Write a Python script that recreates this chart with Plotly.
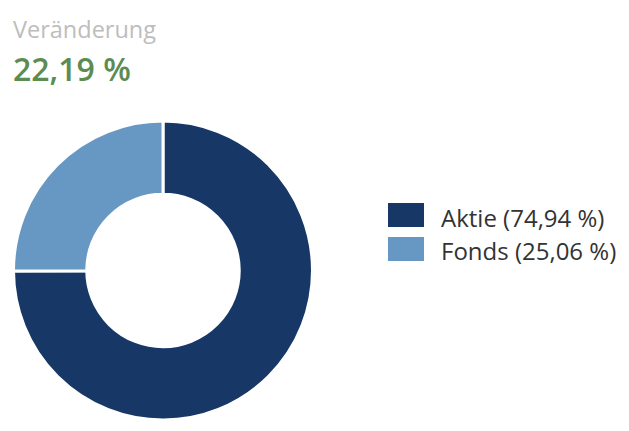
import plotly.graph_objects as go

labels = ["Aktie", "Fonds"]
values = [74.94, 25.06]
colors = ["#173867", "#6797c3"]
title_label = "Veränderung"
change_text = "22,19 %"

W, H = 629, 431

def fmt(v):
    return f"{v:.2f}".replace(".", ",") + " %"

fig = go.Figure()
fig.add_trace(go.Pie(
    labels=labels, values=values, hole=0.51, sort=False,
    direction="clockwise", rotation=0,
    marker=dict(colors=colors, line=dict(color="white", width=3)),
    textinfo="none", hoverinfo="label+percent", showlegend=False,
    domain=dict(x=[13 / W, 313 / W], y=[11 / H, 310 / H]),
))

font = "Open Sans"
fig.add_annotation(x=11 / W, y=1 - 29 / H, xref="paper", yref="paper", xanchor="left", yanchor="middle",
                   text=title_label, showarrow=False, font=dict(family=font, size=23.5, color="#bdbdbd"))
fig.add_annotation(x=11 / W, y=1 - 68 / H, xref="paper", yref="paper", xanchor="left", yanchor="middle",
                   text=change_text, showarrow=False,
                   font=dict(family=font, size=32, color="#5b8c51", weight=600))

for i, (lab, val, col) in enumerate(zip(labels, values, colors)):
    yc = 215 + i * 34
    fig.add_shape(type="rect", xref="paper", yref="paper",
                  x0=388 / W, x1=424 / W, y0=1 - (yc + 12) / H, y1=1 - (yc - 12) / H,
                  fillcolor=col, line=dict(width=0))
    fig.add_annotation(x=439 / W, y=1 - (yc + 2) / H, xref="paper", yref="paper", xanchor="left", yanchor="middle",
                       text=f"{lab} ({fmt(val)})", showarrow=False,
                       font=dict(family=font, size=24, color="#333333"))

fig.update_layout(width=W, height=H, margin=dict(l=0, r=0, t=0, b=0),
                  paper_bgcolor="white", plot_bgcolor="white")
fig.write_html("out.html")
